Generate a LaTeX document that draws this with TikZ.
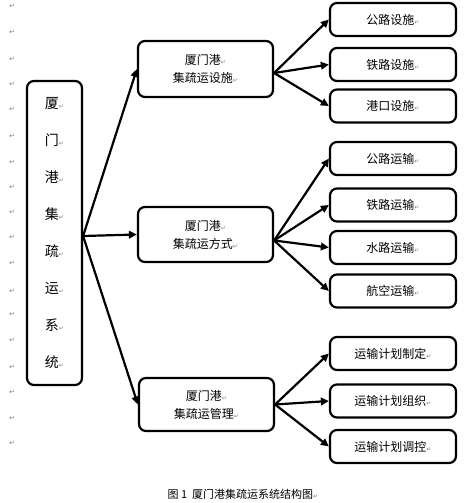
\documentclass[tikz,border=0pt]{standalone}
\usepackage{fontspec}
\setmainfont{Noto Sans CJK SC}
\newfontfamily\symfont{DejaVu Sans}
\usetikzlibrary{arrows.meta}
\newcommand\parmark{{\symfont\fontsize{6}{6}\selectfont\textcolor{gray}{↵}}}
\tikzset{
  box/.style={draw, line width=2.2pt, rounded corners=7pt, inner sep=0pt, fill=white, align=center},
  midbox/.style={box, minimum width=135pt, font=\fontsize{12}{18}\selectfont},
  leafbox/.style={box, minimum width=126pt, minimum height=33pt, font=\fontsize{12}{14}\selectfont},
  arr/.style={line width=2.2pt, -{Triangle[length=8pt,width=7.5pt]}},
  marg/.style={inner sep=0pt, font=\symfont\fontsize{7}{7}\selectfont, text=gray}
}
\begin{document}
\begin{tikzpicture}[x=1pt,y=-1pt]
\useasboundingbox (0,0) rectangle (472,503);
% paragraph marks in the margin
\foreach \yy [count=\i] in {6,32,59,84,109,136,162,187,212,237,263,291,314,340,367,392,418,443}
  \node[marg] (pm\i) at (12,\yy) {↵};
% root
\node[box, minimum width=55pt, minimum height=304pt,
      font=\fontsize{14}{37}\selectfont] (root) at (54.5,233)
  {厦\parmark\\门\parmark\\港\parmark\\集\parmark\\疏\parmark\\运\parmark\\系\parmark\\统\parmark};
% middle level
\node[midbox, minimum height=56pt] (m1) at (205.5,69) {厦门港\parmark\\集疏运设施\parmark};
\node[midbox, minimum height=55pt] (m2) at (205.5,234.5) {厦门港\parmark\\集疏运方式\parmark};
\node[midbox, minimum height=53pt] (m3) at (206.5,404.5) {厦门港\parmark\\集疏运管理\parmark};
% leaves
\node[leafbox] (l1) at (393,19.5) {公路设施\parmark};
\node[leafbox] (l2) at (393,64.5) {铁路设施\parmark};
\node[leafbox] (l3) at (393,106) {港口设施\parmark};
\node[leafbox] (l4) at (393,158.5) {公路运输\parmark};
\node[leafbox] (l5) at (393,205) {铁路运输\parmark};
\node[leafbox] (l6) at (393,247.5) {水路运输\parmark};
\node[leafbox] (l7) at (393,291) {航空运输\parmark};
\node[leafbox] (l8) at (393,353.5) {运输计划制定\parmark};
\node[leafbox] (l9) at (393,401) {运输计划组织\parmark};
\node[leafbox] (l10) at (393,446.5) {运输计划调控\parmark};
% connectors
\coordinate (o) at ([yshift=-3pt]root.east);
\foreach \t in {m1,m2,m3} \draw[arr] (o) -- (\t.west);
\coordinate (o1) at ([yshift=-4pt]m1.east);
\coordinate (o2) at ([yshift=-6pt]m2.east);
\coordinate (o3) at (m3.east);
\foreach \t in {l1,l2,l3} \draw[arr] (o1) -- (\t.west);
\foreach \t in {l4,l5,l6,l7} \draw[arr] (o2) -- (\t.west);
\foreach \t in {l8,l9,l10} \draw[arr] (o3) -- (\t.west);
% caption
\node[font=\fontsize{11}{13}\selectfont, inner sep=0pt] (cap) at (243,494) {图 1\ \ 厦门港集疏运系统结构图\parmark};
\end{tikzpicture}
\end{document}
